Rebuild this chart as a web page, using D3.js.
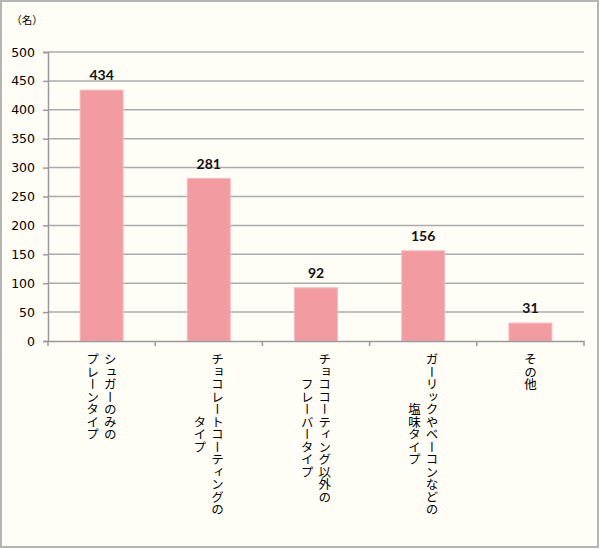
<!DOCTYPE html>
<html><head><meta charset="utf-8">
<script src="https://cdn.jsdelivr.net/npm/d3@7"></script>
<style>html,body{margin:0;padding:0;background:#fff;}svg{display:block;}</style>
</head><body>
<script>
const categories = [
  ["シュガーのみの", "プレーンタイプ"],
  ["チョコレートコーティングの", "タイプ"],
  ["チョココーティング以外の", "フレーバータイプ"],
  ["ガーリックやベーコンなどの", "塩味タイプ"],
  ["その他"]
];
const values = [434, 281, 92, 156, 31];
const yTicks = [0, 50, 100, 150, 200, 250, 300, 350, 400, 450, 500];
const unitLabel = "（名）";

(function () {
const W = 600, H = 549;
const svg = d3.select("body").append("svg").attr("width", W).attr("height", H);
svg.append("rect").attr("x", 1).attr("y", 1).attr("width", W - 3).attr("height", H - 3)
  .attr("fill", "#fffdf6").attr("stroke", "#b4b4b4").attr("stroke-width", 2);

const pLeft = 48, pRight = 584, pTop = 52, pBottom = 341;
const x = d3.scaleBand().domain(d3.range(categories.length)).range([pLeft, pRight]).paddingInner(0.6).paddingOuter(0.3);
const xOuter = d3.scaleBand().domain(d3.range(categories.length)).range([pLeft, pRight]);
const y = d3.scaleLinear().domain([0, 500]).range([pBottom, pTop]);

// gridlines
svg.append("g").selectAll("line").data(yTicks.filter(d => d > 0)).join("line")
  .attr("x1", pLeft).attr("x2", pRight).attr("y1", d => y(d)).attr("y2", d => y(d))
  .attr("stroke", "#ababab").attr("stroke-width", 1.5);

// y axis
const yAxis = d3.axisLeft(y).tickValues(yTicks).tickSize(5).tickPadding(8);
const gy = svg.append("g").attr("transform", `translate(${pLeft},0)`).call(yAxis);
gy.select(".domain").attr("stroke", "#9a9a9a").attr("stroke-width", 1.5);
gy.selectAll(".tick line").attr("stroke", "#9a9a9a").attr("stroke-width", 1.5);
gy.selectAll("text").attr("font-family", "DejaVu Sans").attr("font-size", 12.5).attr("fill", "#000");

// bars
svg.append("g").selectAll("rect").data(values).join("rect")
  .attr("x", (d, i) => x(i)).attr("width", x.bandwidth())
  .attr("y", d => y(d)).attr("height", d => pBottom - y(d))
  .attr("fill", "#f29ca1").attr("stroke", "#f6b7ba").attr("stroke-width", 1);

// value labels
svg.append("g").selectAll("text").data(values).join("text")
  .attr("x", (d, i) => x(i) + x.bandwidth() / 2).attr("y", d => y(d) - 10)
  .attr("text-anchor", "middle").attr("font-family", "Lato").attr("font-weight", "bold")
  .attr("font-size", 14).attr("fill", "#111").text(d => d);

// x axis
const xAxis = d3.axisBottom(xOuter).tickSize(0).tickFormat("");
const gx = svg.append("g").attr("transform", `translate(0,${pBottom})`).call(xAxis);
gx.select(".domain").attr("stroke", "#9a9a9a").attr("stroke-width", 1.5);
gx.selectAll(".tick").remove();
gx.selectAll("line.bnd").data(d3.range(categories.length + 1)).join("line").attr("class", "bnd")
  .attr("x1", i => i < categories.length ? xOuter(i) : pRight).attr("x2", i => i < categories.length ? xOuter(i) : pRight)
  .attr("y1", 0).attr("y2", 5).attr("stroke", "#9a9a9a").attr("stroke-width", 1.5);

// category labels (vertical)
const fs = 12.5, lineGap = 17.5, labelTop = 353;
const lab = svg.append("g");
categories.forEach((lines, i) => {
  const cx = xOuter(i) + xOuter.bandwidth() / 2;
  const maxLen = d3.max(lines, l => l.length);
  const cy = labelTop + maxLen * fs / 2;
  const n = lines.length;
  lines.forEach((l, j) => {
    const colX = cx + ((n - 1) / 2 - j) * lineGap;
    lab.append("text")
      .attr("x", colX).attr("y", cy)
      .attr("text-anchor", "middle")
      .style("writing-mode", "vertical-rl")
      .attr("font-family", "Noto Sans CJK JP").attr("font-size", fs).attr("fill", "#000")
      .text(l);
  });
});

// unit label
svg.append("text").attr("x", 27).attr("y", 24).attr("text-anchor", "middle")
  .attr("font-family", "Noto Sans CJK JP").attr("font-size", 10.5).attr("fill", "#000").text(unitLabel);
})();
</script>
</body></html>
